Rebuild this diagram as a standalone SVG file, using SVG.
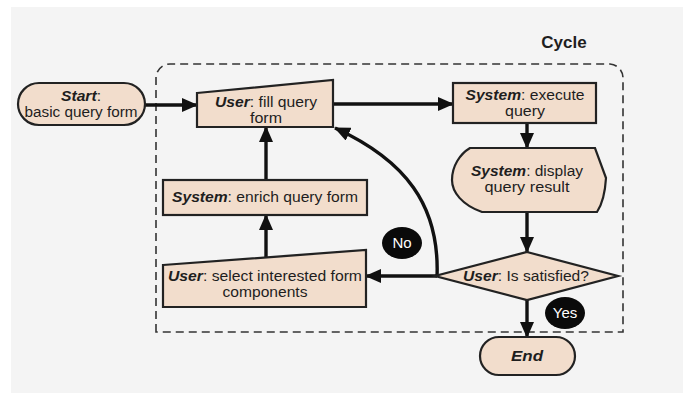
<svg xmlns="http://www.w3.org/2000/svg" width="683" height="394" viewBox="0 0 683 394">
<defs>
<marker id="arr" markerUnits="userSpaceOnUse" markerWidth="16" markerHeight="14" viewBox="0 0 16 14" refX="15" refY="7" orient="auto">
<path d="M0,0 L16,7 L0,14 Z" fill="#111"/>
</marker>
<style>
.shape{fill:#f2ddcc;stroke:#222;stroke-width:2.2}
.t{font-family:"Liberation Sans",Arial,sans-serif;font-size:14px;fill:#1e1e1e;text-anchor:middle}
.bi{font-weight:bold;font-style:italic}
.conn{fill:none;stroke:#111;stroke-width:3.4;marker-end:url(#arr)}
.badge{fill:#0a0a0a}
.bt{font-family:"Liberation Sans",Arial,sans-serif;font-size:15px;fill:#fff;text-anchor:middle}
</style>
</defs>
<rect x="0" y="0" width="683" height="394" fill="#ffffff"/>
<rect x="11" y="7" width="672" height="386" fill="#f4f4f4"/>
<g id="cycle">
<path d="M156,332 L156,78 A14,14 0 0 1 170,64 L610,64 A14,14 0 0 1 623,78 L623,332 Z" fill="none" stroke="#333" stroke-width="1.6" stroke-dasharray="8,5"/>
<text x="564" y="48" style="font-family:'Liberation Sans',Arial,sans-serif;font-size:17px;font-weight:bold;fill:#1e1e1e;text-anchor:middle">Cycle</text>
</g>
<g id="connectors">
<path class="conn" d="M145,105 L197,105"/>
<path class="conn" d="M333,104 L453,104"/>
<path class="conn" d="M527,123 L527,148"/>
<path class="conn" d="M527,212 L527,252"/>
<path class="conn" d="M527,300 L527,337"/>
<path class="conn" d="M437,276 L366,276"/>
<path class="conn" d="M437,277 C440,205 405,160 335,128"/>
<path class="conn" d="M266,180 L266,127"/>
<path class="conn" d="M266,257 L266,215"/>
</g>
<g id="start">
<rect class="shape" x="18" y="83" width="127" height="42" rx="21" ry="21"/>
<text class="t" x="81" y="101" textLength="40" lengthAdjust="spacingAndGlyphs"><tspan class="bi">Start</tspan>:</text>
<text class="t" x="81" y="117" textLength="113" lengthAdjust="spacingAndGlyphs">basic query form</text>
</g>
<g id="fill">
<path class="shape" d="M197,93 L333,80 L333,127 L197,127 Z"/>
<text class="t" x="266" y="107" textLength="102" lengthAdjust="spacingAndGlyphs"><tspan class="bi">User</tspan>: fill query</text>
<text class="t" x="266" y="123" textLength="32" lengthAdjust="spacingAndGlyphs">form</text>
</g>
<g id="execute">
<rect class="shape" x="453" y="83" width="143" height="40"/>
<text class="t" x="525" y="100" textLength="119" lengthAdjust="spacingAndGlyphs"><tspan class="bi">System</tspan>: execute</text>
<text class="t" x="525" y="116" textLength="40" lengthAdjust="spacingAndGlyphs">query</text>
</g>
<g id="display">
<path class="shape" d="M470,148 L595,148 L606,178 C605,195 601,206 597,212 L482,212 C462,205 452,192 452,180 C452,166 460,154 470,148 Z"/>
<text class="t" x="527" y="176" textLength="112" lengthAdjust="spacingAndGlyphs"><tspan class="bi">System</tspan>: display</text>
<text class="t" x="527" y="192" textLength="85" lengthAdjust="spacingAndGlyphs">query result</text>
</g>
<g id="decision">
<path class="shape" d="M527,252 L618,276 L527,300 L435,276 Z"/>
<text class="t" x="526" y="281" textLength="126" lengthAdjust="spacingAndGlyphs"><tspan class="bi">User</tspan>: Is satisfied?</text>
</g>
<g id="end">
<rect class="shape" x="480" y="337" width="95" height="38" rx="19" ry="19"/>
<text class="t bi" x="527" y="361" textLength="32" lengthAdjust="spacingAndGlyphs">End</text>
</g>
<g id="enrich">
<rect class="shape" x="163" y="180" width="204" height="35"/>
<text class="t" x="265" y="202" textLength="186" lengthAdjust="spacingAndGlyphs"><tspan class="bi">System</tspan>: enrich query form</text>
</g>
<g id="select">
<path class="shape" d="M163,265 L366,250 L366,307 L163,307 Z"/>
<text class="t" x="265" y="281" textLength="194" lengthAdjust="spacingAndGlyphs"><tspan class="bi">User</tspan>: select interested form</text>
<text class="t" x="265" y="297" textLength="85" lengthAdjust="spacingAndGlyphs">components</text>
</g>
<g id="no">
<ellipse class="badge" cx="402" cy="243" rx="20" ry="16"/>
<text class="bt" x="402" y="248">No</text>
</g>
<g id="yes">
<ellipse class="badge" cx="565" cy="313" rx="20" ry="16"/>
<text class="bt" x="565" y="318">Yes</text>
</g>
</svg>
